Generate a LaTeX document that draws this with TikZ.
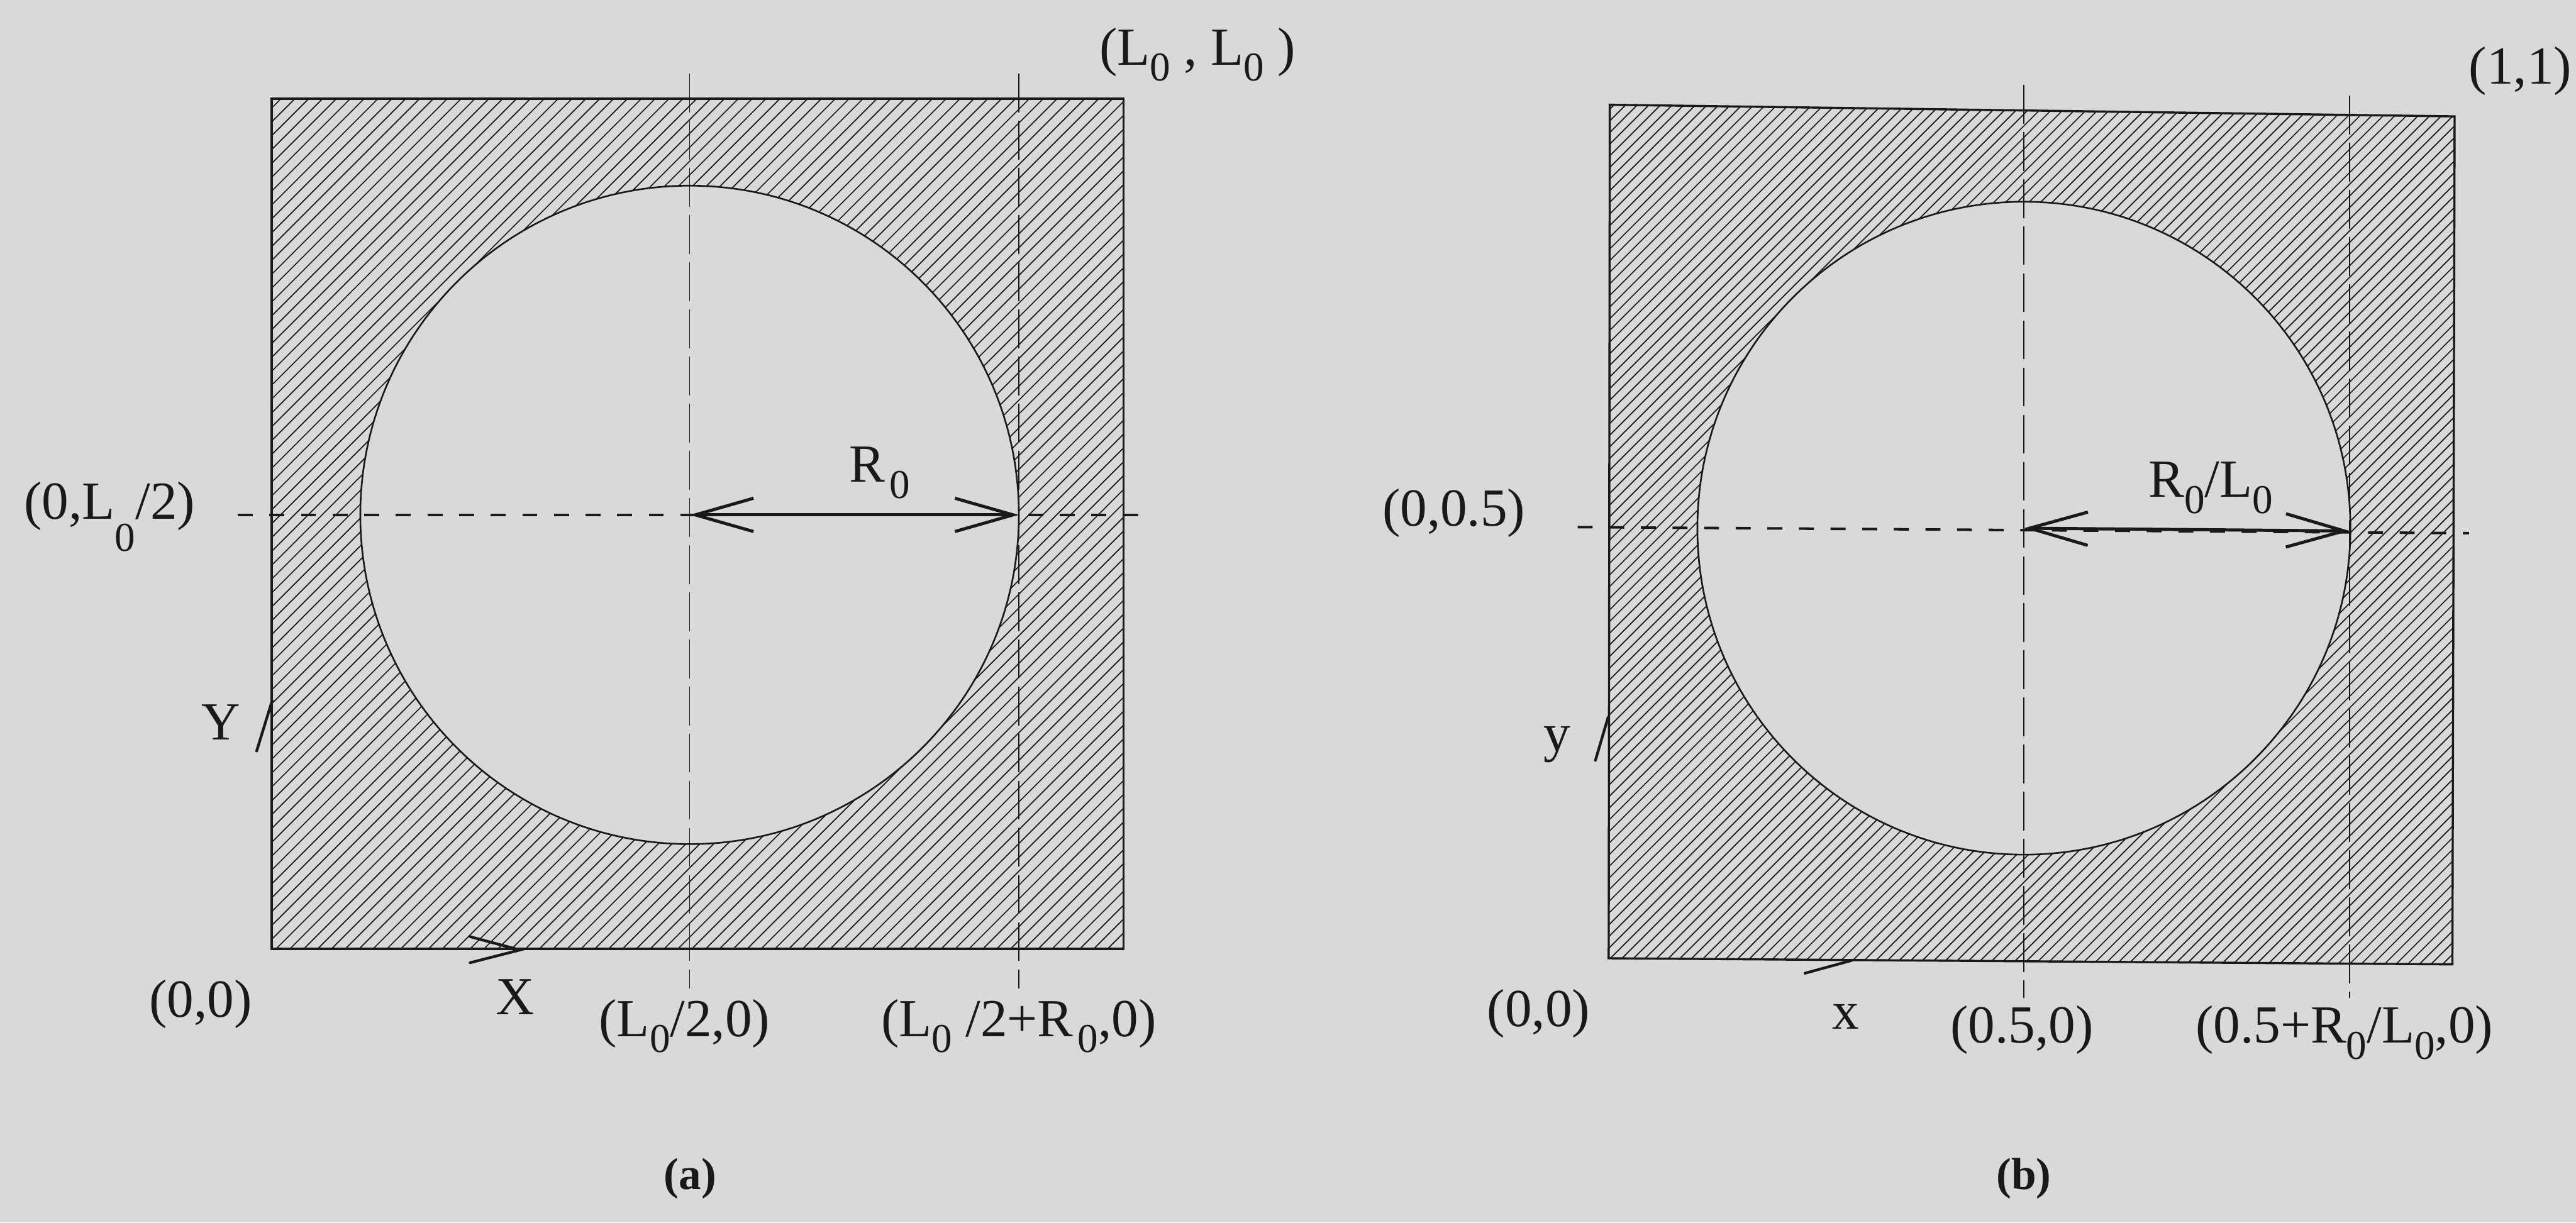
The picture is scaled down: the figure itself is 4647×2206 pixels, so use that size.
\documentclass[tikz,border=0pt]{standalone}
\usepackage{fontspec}
\setmainfont{Liberation Serif}
\usetikzlibrary{arrows.meta}
\definecolor{paper}{RGB}{217,217,217}
\definecolor{ink}{RGB}{25,25,25}
\newcommand{\lsub}[2][0.3em]{\raisebox{-#1}{\fontsize{21}{21}\selectfont #2}}

\begin{document}
\begin{tikzpicture}[x=0.01cm, y=-0.01cm,
    lbl/.style={inner sep=0pt, text=ink, font=\fontsize{27.5}{33}\selectfont},
    caption/.style={inner sep=0pt, text=ink, font=\fontsize{23}{28}\selectfont\bfseries},
    hatchline/.style={draw=ink, line width=0.55pt},
    border/.style={draw=ink, line width=1.1pt},
    rim/.style={draw=ink, line width=0.85pt},
    middash/.style={draw=ink, line width=1.3pt, dash pattern=on 0.27cm off 0.3cm},
    vertdash/.style={draw=ink, line width=0.6pt, dash pattern=on 0.7cm off 0.15cm},
    radarrow/.style={draw=ink, line width=1.6pt,
      {Straight Barb[length=10.5mm, width=6mm]}-{Straight Barb[length=10.5mm, width=6mm]}},
    barb/.style={draw=ink, line width=1.4pt, line cap=round}]

  % Fondo
  \fill[paper] (0,0) rectangle (4647,2206);
  \useasboundingbox (0,0) rectangle (4647,2206);

  % ---------- (a) ----------
  \coordinate (a-sw) at (490,1712);
  \coordinate (a-ne) at (2027,178);
  \coordinate (a-c) at (1244,929);
  \coordinate (a-r) at (1838,929);
  % Rayado
  \begin{scope}
    \clip (a-sw) rectangle (a-ne);
    \foreach \k in {-1060,-1035,...,2040}
      \draw[hatchline] (\k,1720) -- ++(1560,-1560);
  \end{scope}
  % Hueco circular
  \fill[paper] (a-c) circle[radius=594];
  \draw[rim] (a-c) circle[radius=594];
  \draw[border] (a-sw) rectangle (a-ne);
  % Ejes punteados
  \draw[middash] (429,929) -- (2056,929);
  \draw[vertdash] (1244,133) -- (1244,1783);
  \draw[vertdash] (1838,133) -- (1838,1783);
  % Radio
  \draw[radarrow] (a-c) -- (a-r);
  % Flechas X, Y
  \draw[barb] (848,1690) -- (938,1714) -- (848,1737);
  \draw[barb] (463,1355) -- (491,1264);

  \node[lbl, anchor=base west] (a-LL) at (1983,117) {(L\lsub{0} , L\lsub{0} )};
  \node[lbl, anchor=base west] (a-mid) at (43,936) {(0,L\lsub[0.6em]{0}/2)};
  \node[lbl, anchor=base east] (a-oo) at (455,1835) {(0,0)};
  \node[lbl, anchor=base] (a-X) at (930,1830) {X};
  \node[lbl, anchor=base] (a-Y) at (398,1335) {Y};
  \node[lbl, anchor=base west] (a-half) at (1080,1870) {(L\lsub{0}/2,0)};
  \node[lbl, anchor=base west] (a-edge) at (1589,1870) {(L\lsub{0} /2+R\kern0.08em\lsub{0},0)};
  \node[lbl, anchor=base west] (a-R) at (1532,870) {R\kern0.08em\lsub{0}};
  \node[caption, anchor=base] (a-cap) at (1245,2146) {(a)};

  % ---------- (b) ----------
  \coordinate (b-sw) at (2902,1729);
  \coordinate (b-nw) at (2904,189);
  \coordinate (b-ne) at (4428,210);
  \coordinate (b-se) at (4424,1740);
  \coordinate (b-c) at (3651,953);
  \coordinate (b-r) at (4239,958);
  % Rayado
  \begin{scope}
    \clip (b-sw) -- (b-nw) -- (b-ne) -- (b-se) -- cycle;
    \foreach \k in {1330,1351,...,4450}
      \draw[hatchline] (\k,1750) -- ++(1580,-1580);
  \end{scope}
  % Hueco circular
  \fill[paper] (b-c) circle[radius=589];
  \draw[rim] (b-c) circle[radius=589];
  \draw[border] (b-sw) -- (b-nw) -- (b-ne) -- (b-se) -- cycle;
  % Ejes punteados
  \draw[middash] (2846,951) -- (4454,962);
  \draw[vertdash] (3651,153) -- (3651,1800);
  \draw[vertdash] (4239,173) -- (4239,1800);
  % Radio
  \draw[radarrow] (b-c) -- (b-r);
  % Flechas x, y
  \draw[barb] (3256,1756) -- (3340,1733);
  \draw[barb] (2878,1372) -- (2901,1294);

  \node[lbl, anchor=base east] (b-11) at (4640,151) {(1,1)};
  \node[lbl, anchor=base west] (b-mid) at (2493,949) {(0,0.5)};
  \node[lbl, anchor=base east] (b-oo) at (2869,1852) {(0,0)};
  \node[lbl, anchor=base] (b-x) at (3330,1857) {x};
  \node[lbl, anchor=base] (b-y) at (2809,1355) {y};
  \node[lbl, anchor=base west] (b-half) at (3518,1882) {(0.5,0)};
  \node[lbl, anchor=base west] (b-edge) at (3960,1882) {(0.5+R\lsub{0}/L\lsub{0},0)};
  \node[lbl, anchor=base west] (b-R) at (3875,897) {R\lsub{0}/L\lsub{0}};
  \node[caption, anchor=base] (b-cap) at (3651,2146) {(b)};
\end{tikzpicture}
\end{document}
